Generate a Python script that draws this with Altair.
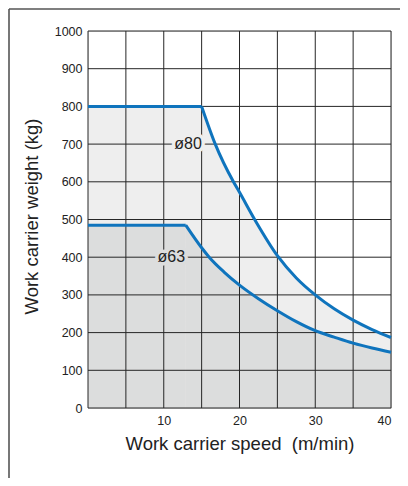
import altair as alt
import pandas as pd

# ---- data ----
series = ["ø80", "ø63"]

x80_flat = [0, 15]
y80_flat = [800, 800]
x80_curve = [15, 16.8, 19.2, 20, 22, 25, 27.5, 30, 32.5, 35, 37.5, 40]
y80_curve = [800, 700, 600, 572, 500, 404, 345, 300, 263, 233, 208, 187]

x63_flat = [0, 12.9]
y63_flat = [485, 485]
x63_curve = [12.9, 15, 16, 18, 20, 22.5, 25, 27.5, 30, 32.5, 35, 37.5, 40]
y63_curve = [485, 425, 400, 360, 326, 290, 258, 229, 205, 188, 172, 159, 148]

label_text = ["ø80", "ø63"]
label_x = [13.2, 11.0]
label_y = [700, 400]

x_grid = [0, 5, 10, 15, 20, 25, 30, 35, 40]
y_grid = [0, 100, 200, 300, 400, 500, 600, 700, 800, 900, 1000]
x_tick_labels = [10, 20, 30, 40]
y_tick_labels = [0, 100, 200, 300, 400, 500, 600, 700, 800, 900, 1000]

fill_colors = {"ø80": "#eeeeee", "ø63": "#dcdddd"}
LINE = "#0f74bd"
GRID = "#262626"
FONT = "Liberation Sans"

W, H = 303, 377
PAD = {"left": 80, "top": 23, "right": 9, "bottom": 70}


def frame(name, xf, yf, xc, yc):
    rows = [{"s": name, "seg": "flat", "x": a, "y": b} for a, b in zip(xf, yf)]
    rows += [{"s": name, "seg": "curve", "x": a, "y": b} for a, b in zip(xc, yc)]
    return pd.DataFrame(rows)


d80 = frame("ø80", x80_flat, y80_flat, x80_curve, y80_curve)
d63 = frame("ø63", x63_flat, y63_flat, x63_curve, y63_curve)

xs = alt.Scale(domain=[0, 40], nice=False, zero=False)
ys = alt.Scale(domain=[0, 1000], nice=False)

x_axis = alt.Axis(
    values=x_tick_labels, grid=False, domain=False, ticks=False, tickSize=0,
    labelPadding=16, labelBaseline="alphabetic", labelFontSize=12.5,
    labelColor="#222222", labelFont=FONT, labelOverlap=False, format="d",
    title="Work carrier speed\u00a0 (m/min)", titleFont=FONT, titleFontSize=18.5,
    titleFontWeight="normal", titleColor="#222222", titleX=151.5, titleY=41,
    titleAlign="center", titleBaseline="alphabetic",
)
y_axis = alt.Axis(
    values=y_tick_labels, grid=False, domain=False, ticks=False, tickSize=0,
    labelPadding=6, labelFontSize=12.5, labelColor="#222222", labelFont=FONT,
    labelOverlap=False, format="d",
    title="Work carrier weight (kg)", titleFont=FONT, titleFontSize=18.5,
    titleFontWeight="normal", titleColor="#222222", titleAngle=270,
    titleX=-51, titleY=185, titleAlign="center", titleBaseline="alphabetic",
)


def X(field):
    return alt.X(field, type="quantitative", scale=xs, axis=x_axis)


def Y(field, **kw):
    return alt.Y(field, type="quantitative", scale=ys, axis=y_axis, **kw)


def area(df, color):
    return alt.Chart(df).mark_area(color=color, interpolate="monotone").encode(
        x=X("x"), y=Y("y", stack=None), detail="seg:N",
    )


def line(df):
    return alt.Chart(df).mark_line(color=LINE, strokeWidth=3, interpolate="monotone").encode(
        x=X("x"), y=Y("y"), detail="seg:N",
    )


vgrid = alt.Chart(pd.DataFrame({"x": x_grid})).mark_rule(color=GRID, strokeWidth=1).encode(
    x=X("x")
)
hgrid = alt.Chart(pd.DataFrame({"y": y_grid})).mark_rule(color=GRID, strokeWidth=1).encode(
    y=Y("y")
)

labels = []
for t, lx, ly in zip(label_text, label_x, label_y):
    ldf = pd.DataFrame({"t": [t], "x": [lx], "y": [ly]})
    halo = alt.Chart(ldf).mark_text(
        font=FONT, fontSize=16, stroke=fill_colors[t], strokeWidth=7,
        fill=fill_colors[t], baseline="middle", align="center", strokeJoin="round",
    ).encode(x=X("x"), y=Y("y"), text="t:N")
    txt = alt.Chart(ldf).mark_text(
        font=FONT, fontSize=16, color="#222222", baseline="middle", align="center",
    ).encode(x=X("x"), y=Y("y"), text="t:N")
    labels += [halo, txt]

# outer frame of the figure (decoration, at the edge of the drawing)
fx = -PAD["left"] + 1
fy = -PAD["top"] + 1
frame_left = alt.Chart(pd.DataFrame({"a": [0]})).mark_rule(color="#555555", strokeWidth=1.6).encode(
    x=alt.value(fx), y=alt.value(fy), y2=alt.value(H + PAD["bottom"])
)
frame_top = alt.Chart(pd.DataFrame({"a": [0]})).mark_rule(color="#555555", strokeWidth=1.6).encode(
    y=alt.value(fy), x=alt.value(fx), x2=alt.value(W + PAD["right"])
)

chart = alt.layer(
    area(d80, fill_colors["ø80"]),
    area(d63, fill_colors["ø63"]),
    vgrid, hgrid,
    line(d80), line(d63),
    *labels,
    frame_left, frame_top,
).properties(
    width=W, height=H,
    autosize=alt.AutoSizeParams(type="none"),
    padding=PAD,
).configure_view(stroke=None).configure(background="white")

chart.save("out.html", embed_options={"renderer": "svg", "actions": False})
